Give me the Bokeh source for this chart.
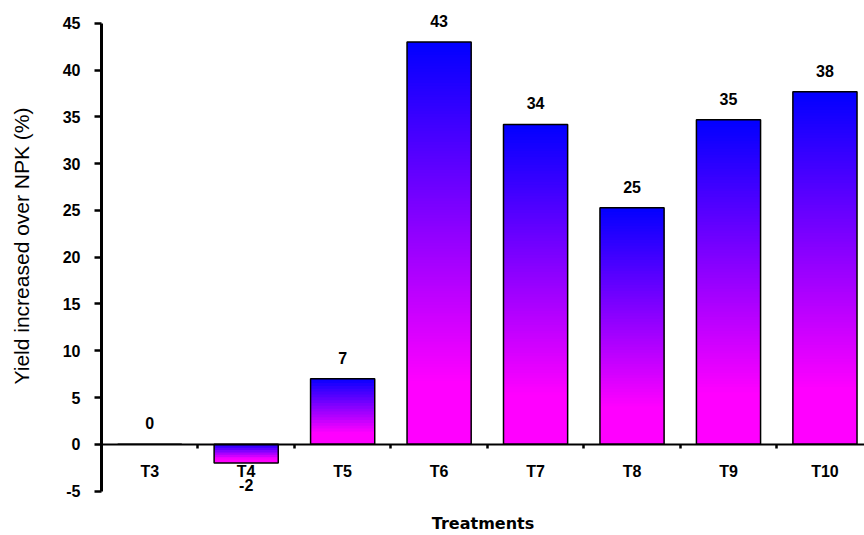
from bokeh.plotting import figure
from bokeh.models import Range1d, FixedTicker, LinearAxis, ColumnDataSource
from bokeh.core.properties import value
from bokeh.embed import file_html
from bokeh.resources import INLINE

# ---- data ----
treatments = ["T3", "T4", "T5", "T6", "T7", "T8", "T9", "T10"]
yield_increase = [0, -2, 7, 43, 34.2, 25.3, 34.7, 37.7]
value_labels = ["0", "-2", "7", "43", "34", "25", "35", "38"]
y_ticks = [-5, 0, 5, 10, 15, 20, 25, 30, 35, 40, 45]

FONT = "Liberation Sans"
BAR_W = 0.665
STRIP_H = 0.3

xs = list(range(len(treatments)))

p = figure(width=864, height=535,
           x_range=Range1d(-0.5, 7.41), y_range=Range1d(-5.05, 47.45),
           output_backend="svg", toolbar_location=None,
           x_axis_type=None, y_axis_type=None,
           min_border_left=101, min_border_top=0, min_border_right=0, min_border_bottom=43)
p.grid.visible = False
p.outline_line_color = None
p.background_fill_color = "white"
p.border_fill_color = "white"

# ---- gradient bars (blue at top -> magenta at bottom) ----
left, right, top, bottom, colors = [], [], [], [], []
for x, v in zip(xs, yield_increase):
    hi, lo = max(v, 0), min(v, 0)
    h = hi - lo
    if h == 0:
        continue
    n = max(8, int(round(h / STRIP_H)))
    step = h / n
    for k in range(n):
        t0 = hi - step * k
        t1 = hi - step * (k + 1)
        frac = (k + 0.5) / n
        r = int(round(255 * min(1.0, frac / 0.85)))
        left.append(x - BAR_W / 2)
        right.append(x + BAR_W / 2)
        top.append(t0 + (0.5 * step if k > 0 else 0))
        bottom.append(t1)
        colors.append("#%02x%02xff" % (r, 0))
strips = ColumnDataSource(dict(left=left, right=right, top=top, bottom=bottom, color=colors))
p.quad(left="left", right="right", top="top", bottom="bottom", source=strips,
       fill_color="color", line_color=None)

bars = ColumnDataSource(dict(x=xs, top=yield_increase))
p.vbar(x="x", top="top", bottom=0, width=BAR_W, source=bars,
       fill_color=None, line_color="black", line_width=1.5)

# ---- value labels ----
lab = ColumnDataSource(dict(
    x=xs, y=yield_increase, text=value_labels,
    yoff=[-21 if v >= 0 else 22 for v in yield_increase]))
p.text(x="x", y="y", text="text", source=lab, y_offset="yoff",
       text_align="center", text_baseline="middle",
       text_font=value(FONT), text_font_style="bold", text_font_size="16px",
       text_color="black")

# ---- y axis ----
yaxis = LinearAxis(ticker=FixedTicker(ticks=y_ticks), bounds=(-5, 45),
                   axis_label="Yield increased over NPK (%)")
yaxis.major_label_overrides = {t: str(t) for t in y_ticks}
yaxis.axis_line_width = 3
yaxis.axis_line_color = "black"
yaxis.major_tick_out = 7
yaxis.major_tick_in = 0
yaxis.major_tick_line_width = 2.5
yaxis.minor_tick_out = 0
yaxis.minor_tick_in = 0
yaxis.major_label_standoff = 14
yaxis.major_label_text_font = FONT
yaxis.major_label_text_font_style = "bold"
yaxis.major_label_text_font_size = "16px"
yaxis.major_label_text_color = "black"
yaxis.axis_label_text_font = FONT
yaxis.axis_label_text_font_style = "normal"
yaxis.axis_label_text_font_size = "21px"
yaxis.axis_label_text_color = "black"
yaxis.axis_label_standoff = 27
p.add_layout(yaxis, "left")

# ---- x axis at y = 0 ----
xaxis = LinearAxis(ticker=FixedTicker(ticks=xs, minor_ticks=[x + 0.5 for x in xs[:-1]]),
                   fixed_location=0)
xaxis.major_label_overrides = {x: t for x, t in zip(xs, treatments)}
xaxis.axis_line_width = 2
xaxis.axis_line_color = "black"
xaxis.major_tick_out = 0
xaxis.major_tick_in = 0
xaxis.minor_tick_out = 4
xaxis.minor_tick_in = 0
xaxis.minor_tick_line_width = 2.5
xaxis.major_label_standoff = 15
xaxis.major_label_text_font = FONT
xaxis.major_label_text_font_style = "bold"
xaxis.major_label_text_font_size = "16px"
xaxis.major_label_text_color = "black"
p.add_layout(xaxis, "below")

# ---- x axis title (separate, line-less axis below the frame) ----
xtitle = LinearAxis(ticker=FixedTicker(ticks=[]), axis_label="Treatments")
xtitle.axis_line_color = None
xtitle.major_tick_line_color = None
xtitle.minor_tick_line_color = None
xtitle.major_tick_out = 0
xtitle.minor_tick_out = 0
xtitle.major_label_standoff = 0
xtitle.axis_label_standoff = 22
xtitle.axis_label_text_font = "DejaVu Sans"
xtitle.axis_label_text_font_style = "bold"
xtitle.axis_label_text_font_size = "16px"
xtitle.axis_label_text_color = "black"
p.add_layout(xtitle, "below")

open("out.html", "w").write(file_html(p, INLINE))
